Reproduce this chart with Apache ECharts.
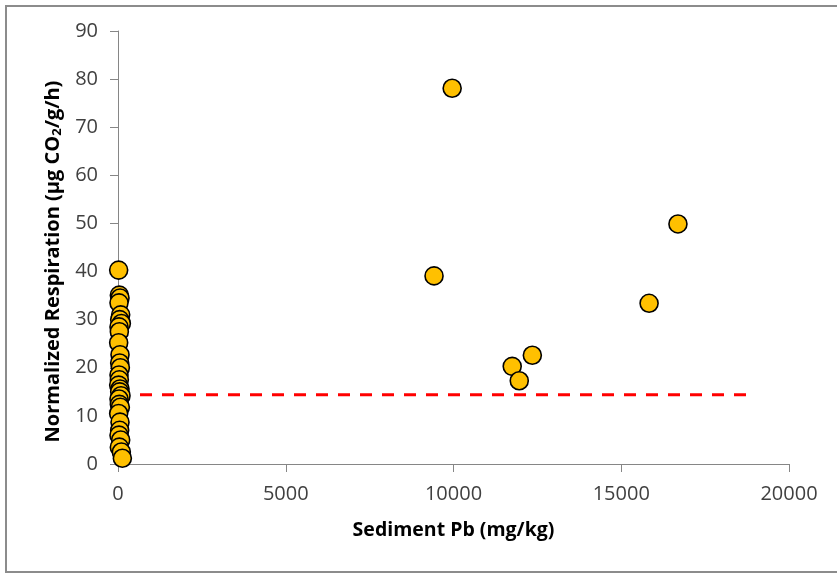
<!DOCTYPE html>
<html>
<head>
<meta charset="utf-8">
<script src="https://cdn.jsdelivr.net/npm/echarts@6/dist/echarts.min.js"></script>
<style>
  html, body { margin: 0; padding: 0; background: #fff; }
  #chart { width: 837px; height: 573px; }
</style>
</head>
<body>
<div id="chart"></div>
<script>
// low-Pb samples clustered near zero
var clusterPb = [20, 40, 60, 30, 80, 50, 100, 30, 40, 20, 60, 50, 70, 30, 40, 20, 60, 50, 90, 30, 40, 70, 20, 60, 50, 30, 80, 40, 100, 130];
var clusterResp = [40.3, 35.1, 34.5, 33.5, 31, 30, 29.2, 28.5, 27.5, 25.2, 22.7, 21, 20, 18.5, 17.5, 16.4, 15.6, 15, 14.2, 13.5, 12.4, 11.8, 10.5, 8.7, 7, 6, 5, 3.5, 2.5, 1.2];
// high-Pb samples
var highPb = [9420, 9960, 11750, 11960, 12350, 15830, 16690];
var highResp = [39.1, 78.1, 20.3, 17.3, 22.6, 33.4, 49.9];
// dashed reference level
var refPb = [0, 19000];
var refResp = 14.4;

var xTicks = [0, 5000, 10000, 15000, 20000];
var yTicks = [0, 10, 20, 30, 40, 50, 60, 70, 80, 90];

var pts = [];
clusterPb.forEach(function (x, i) { pts.push([x, clusterResp[i]]); });
highPb.forEach(function (x, i) { pts.push([x, highResp[i]]); });

var chart = echarts.init(document.getElementById('chart'));
var font = '"Open Sans", sans-serif';

chart.setOption({
    animation: false,
    graphic: [{
        type: 'rect',
        shape: { x: 6, y: 6, width: 850, height: 566 },
        style: { fill: 'none', stroke: '#8c8c8c', lineWidth: 2 }
    }],
    grid: { left: 118, right: 48, top: 31, bottom: 109 },
    xAxis: {
        type: 'value',
        min: xTicks[0], max: xTicks[xTicks.length - 1], interval: 5000,
        name: 'Sediment Pb (mg/kg)',
        nameLocation: 'middle', nameGap: 56,
        nameTextStyle: { fontFamily: font, fontSize: 19.5, fontWeight: 'bold', color: '#000' },
        axisLine: { lineStyle: { color: '#868686', width: 1 } },
        axisTick: { show: true, length: 8, lineStyle: { color: '#868686' } },
        axisLabel: { fontFamily: font, fontSize: 20, color: '#404040', margin: 20, formatter: function (v) { return String(v); } },
        splitLine: { show: false }
    },
    yAxis: {
        type: 'value',
        min: yTicks[0], max: yTicks[yTicks.length - 1], interval: 10,
        name: 'Normalized Respiration (μg CO{sub|2}/g/h)',
        nameLocation: 'middle', nameGap: 52,
        nameTextStyle: {
            fontFamily: font, fontSize: 20, fontWeight: 'bold', color: '#000',
            padding: [0, 28, 0, 0],
            rich: { sub: { fontFamily: font, fontSize: 13, fontWeight: 'bold', color: '#000', verticalAlign: 'bottom', padding: [9, 0, 0, 0] } }
        },
        axisLine: { show: true, lineStyle: { color: '#868686', width: 1 } },
        axisTick: { show: true, length: 8, lineStyle: { color: '#868686' } },
        axisLabel: { fontFamily: font, fontSize: 20, color: '#404040', margin: 20 },
        splitLine: { show: false }
    },
    series: [{
        type: 'line',
        data: refPb.map(function (x) { return [x, refResp]; }),
        symbol: 'none',
        lineStyle: { color: '#ff0000', width: 3, type: [12, 10] },
        z: 1
    }, {
        type: 'scatter',
        data: pts,
        symbol: 'circle',
        symbolSize: 18,
        itemStyle: { color: '#ffc000', borderColor: '#000', borderWidth: 1.6, opacity: 1 },
        z: 2
    }]
});
</script>
</body>
</html>
